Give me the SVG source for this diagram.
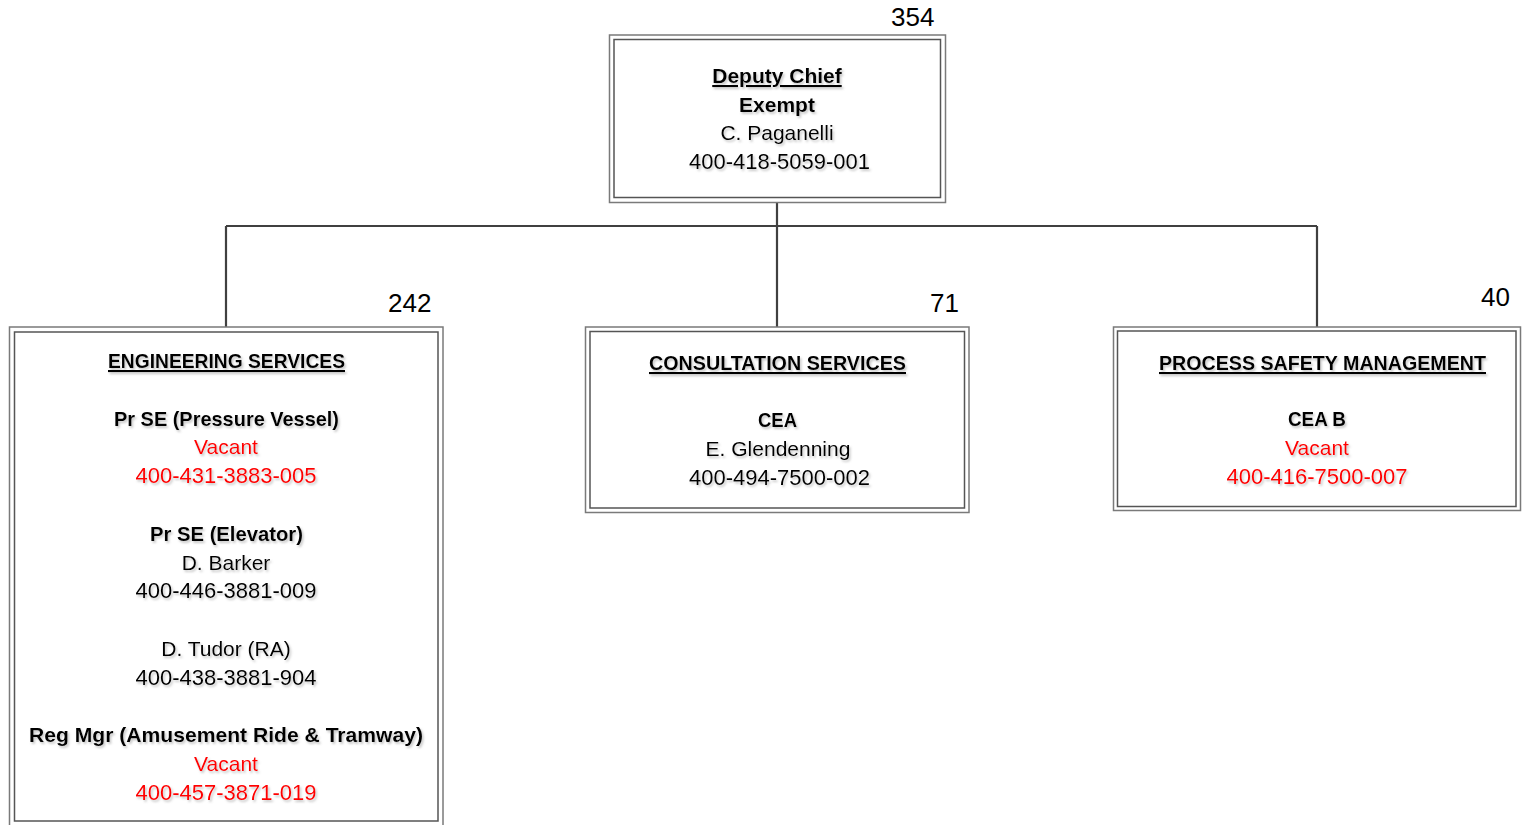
<svg xmlns="http://www.w3.org/2000/svg" width="1522" height="825" viewBox="0 0 1522 825">
<defs>
<filter id="sh" x="-10%" y="-30%" width="120%" height="160%">
<feDropShadow dx="1.5" dy="2" stdDeviation="1.2" flood-color="#808080" flood-opacity="0.45"/>
</filter>
</defs>
<style>
text{font-family:"Liberation Sans",Arial,sans-serif;font-size:21px;fill:#000;text-anchor:middle}
.t{filter:url(#sh)}
.b{font-weight:bold}
.u{text-decoration:underline}
.r{fill:#ff0000}
.d{font-size:22px}
.n{font-size:26px;text-anchor:start}
.o{fill:#fff;stroke:#7a7a7a;stroke-width:1.5}
.i{fill:none;stroke:#555;stroke-width:1.5}
.c{fill:none;stroke:#404040;stroke-width:2.2}
</style>
<rect width="1522" height="825" fill="#fff"/>
<g id="connectors">
<path class="c" d="M777,203 V226 M226,226 H1317 M226,226 V327 M777,226 V327 M1317,226 V327"/>
</g>
<g id="deputy-chief">
<rect class="o" x="609.5" y="35" width="336" height="167.5"/>
<rect class="i" x="614" y="39.5" width="326.5" height="158"/>
<text class="n" x="891" y="26">354</text>
<g class="t">
<text class="b u" x="777" y="83">Deputy Chief</text>
<text class="b" x="777" y="112">Exempt</text>
<text x="777" y="140">C. Paganelli</text>
<text class="d" x="779.5" y="169">400-418-5059-001</text>
</g>
</g>
<g id="engineering-services">
<rect class="o" x="9.5" y="327" width="433.5" height="500"/>
<rect class="i" x="14.5" y="332" width="423.5" height="489"/>
<text class="n" x="388" y="312">242</text>
<g class="t">
<text class="b u" x="226.5" y="368" textLength="237" lengthAdjust="spacingAndGlyphs">ENGINEERING SERVICES</text>
<text class="b" x="226.5" y="426" textLength="225" lengthAdjust="spacingAndGlyphs">Pr SE (Pressure Vessel)</text>
<text class="r" x="226" y="454">Vacant</text>
<text class="r d" x="226" y="483">400-431-3883-005</text>
<text class="b" x="226.5" y="541" textLength="153" lengthAdjust="spacingAndGlyphs">Pr SE (Elevator)</text>
<text x="226" y="570">D. Barker</text>
<text class="d" x="226" y="598">400-446-3881-009</text>
<text x="226" y="656">D. Tudor (RA)</text>
<text class="d" x="226" y="685">400-438-3881-904</text>
<text class="b" x="226" y="742" textLength="394" lengthAdjust="spacingAndGlyphs">Reg Mgr (Amusement Ride &amp; Tramway)</text>
<text class="r" x="226" y="771">Vacant</text>
<text class="r d" x="226" y="800">400-457-3871-019</text>
</g>
</g>
<g id="consultation-services">
<rect class="o" x="585.5" y="327" width="383.5" height="185.5"/>
<rect class="i" x="590" y="331.5" width="374.5" height="176.5"/>
<text class="n" x="930" y="312">71</text>
<g class="t">
<text class="b u" x="777.5" y="370" textLength="257" lengthAdjust="spacingAndGlyphs">CONSULTATION SERVICES</text>
<text class="b" x="777.5" y="427" textLength="39" lengthAdjust="spacingAndGlyphs">CEA</text>
<text x="778" y="456">E. Glendenning</text>
<text class="d" x="779.5" y="485">400-494-7500-002</text>
</g>
</g>
<g id="process-safety-management">
<rect class="o" x="1113.5" y="327" width="407" height="183.5"/>
<rect class="i" x="1117.5" y="331" width="398.5" height="175.5"/>
<text class="n" x="1481" y="306">40</text>
<g class="t">
<text class="b u" x="1322.5" y="370" textLength="327" lengthAdjust="spacingAndGlyphs">PROCESS SAFETY MANAGEMENT</text>
<text class="b" x="1317" y="426" textLength="58" lengthAdjust="spacingAndGlyphs">CEA B</text>
<text class="r" x="1317" y="455">Vacant</text>
<text class="r d" x="1317" y="484">400-416-7500-007</text>
</g>
</g>
</svg>
